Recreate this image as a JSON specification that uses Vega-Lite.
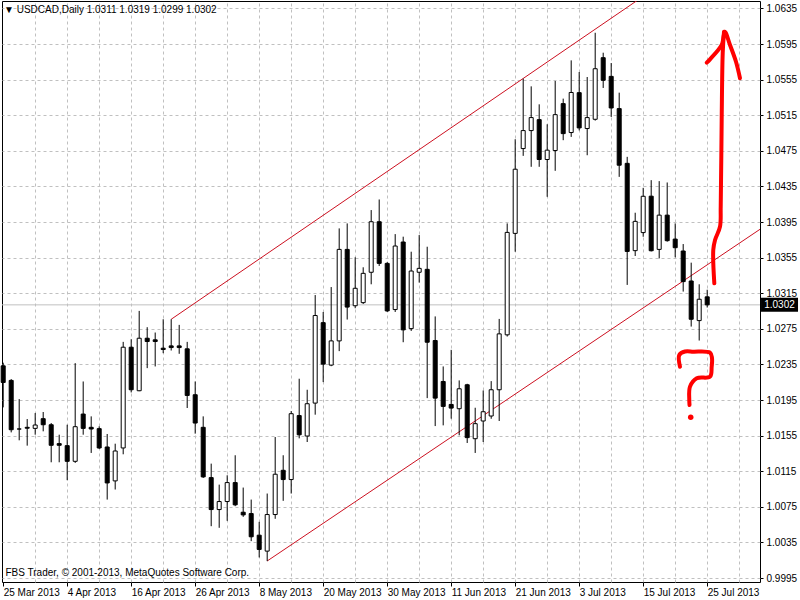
{
  "$schema": "https://vega.github.io/schema/vega-lite/v6.json",
  "width": 758,
  "height": 581,
  "autosize": {"type": "none"},
  "padding": {"left": 2, "top": 1, "right": 40, "bottom": 18},
  "background": "white",
  "config": {
    "view": {"stroke": "black", "strokeWidth": 1},
    "font": "Liberation Sans",
    "scale": {"continuousPadding": 0},
    "axis": {
      "domain": false,
      "labelFont": "Liberation Sans",
      "labelFontSize": 10,
      "labelColor": "black",
      "tickColor": "black",
      "gridColor": "#c0c0c0",
      "gridDash": [3, 3],
      "gridWidth": 1
    }
  },
  "title": {
    "text": "▼ USDCAD,Daily  1.0311 1.0319 1.0299 1.0302",
    "anchor": "start",
    "frame": "group",
    "offset": -14,
    "dx": 2,
    "fontSize": 10,
    "fontWeight": "normal",
    "font": "Liberation Sans",
    "color": "black"
  },
  "datasets": {
    "candles": [
      {"i": 0, "o": 1.02335, "h": 1.0237, "l": 1.01868, "c": 1.02148},
      {"i": 1, "o": 1.02171, "h": 1.02186, "l": 1.01587, "c": 1.01617},
      {"i": 2, "o": 1.01625, "h": 1.01961, "l": 1.01498, "c": 1.01625},
      {"i": 3, "o": 1.01644, "h": 1.01737, "l": 1.01438, "c": 1.01634},
      {"i": 4, "o": 1.01632, "h": 1.01804, "l": 1.01561, "c": 1.0167},
      {"i": 5, "o": 1.01741, "h": 1.01816, "l": 1.01599, "c": 1.01673},
      {"i": 6, "o": 1.01673, "h": 1.01692, "l": 1.01251, "c": 1.01442},
      {"i": 7, "o": 1.01461, "h": 1.01561, "l": 1.01251, "c": 1.01442},
      {"i": 8, "o": 1.01438, "h": 1.01673, "l": 1.0105, "c": 1.01262},
      {"i": 9, "o": 1.01262, "h": 1.02365, "l": 1.01244, "c": 1.01651},
      {"i": 10, "o": 1.01793, "h": 1.02159, "l": 1.01561, "c": 1.01632},
      {"i": 11, "o": 1.01644, "h": 1.01767, "l": 1.01356, "c": 1.01625},
      {"i": 12, "o": 1.01629, "h": 1.01655, "l": 1.01401, "c": 1.01412},
      {"i": 13, "o": 1.01423, "h": 1.01569, "l": 1.00832, "c": 1.01019},
      {"i": 14, "o": 1.01042, "h": 1.0146, "l": 1.00945, "c": 1.01378},
      {"i": 15, "o": 1.01412, "h": 1.02604, "l": 1.01341, "c": 1.02544},
      {"i": 16, "o": 1.02544, "h": 1.02634, "l": 1.02036, "c": 1.02066},
      {"i": 17, "o": 1.02055, "h": 1.02952, "l": 1.0205, "c": 1.02645},
      {"i": 18, "o": 1.02645, "h": 1.02769, "l": 1.02309, "c": 1.02608},
      {"i": 19, "o": 1.02627, "h": 1.02709, "l": 1.02328, "c": 1.02608},
      {"i": 20, "o": 1.02533, "h": 1.02858, "l": 1.02477, "c": 1.02518},
      {"i": 21, "o": 1.02559, "h": 1.02858, "l": 1.02507, "c": 1.0254},
      {"i": 22, "o": 1.02559, "h": 1.02795, "l": 1.0247, "c": 1.0254},
      {"i": 23, "o": 1.02526, "h": 1.02604, "l": 1.01861, "c": 1.02002},
      {"i": 24, "o": 1.0201, "h": 1.02159, "l": 1.01573, "c": 1.01692},
      {"i": 25, "o": 1.01644, "h": 1.01767, "l": 1.01075, "c": 1.01087},
      {"i": 26, "o": 1.01079, "h": 1.01236, "l": 1.00533, "c": 1.0072},
      {"i": 27, "o": 1.0072, "h": 1.01, "l": 1.00515, "c": 1.0081},
      {"i": 28, "o": 1.0081, "h": 1.01105, "l": 1.00593, "c": 1.01023},
      {"i": 29, "o": 1.01023, "h": 1.0133, "l": 1.00758, "c": 1.00773},
      {"i": 30, "o": 1.0069, "h": 1.00967, "l": 1.00638, "c": 1.0066},
      {"i": 31, "o": 1.00675, "h": 1.00832, "l": 1.00365, "c": 1.00414},
      {"i": 32, "o": 1.00432, "h": 1.00582, "l": 1.00182, "c": 1.00272},
      {"i": 33, "o": 1.00253, "h": 1.009, "l": 1.00141, "c": 1.00664},
      {"i": 34, "o": 1.00664, "h": 1.01535, "l": 1.00616, "c": 1.01117},
      {"i": 35, "o": 1.01161, "h": 1.0133, "l": 1.00818, "c": 1.01057},
      {"i": 36, "o": 1.01057, "h": 1.01827, "l": 1.009, "c": 1.01797},
      {"i": 37, "o": 1.01776, "h": 1.0219, "l": 1.0152, "c": 1.0156},
      {"i": 38, "o": 1.01546, "h": 1.02066, "l": 1.01479, "c": 1.01909},
      {"i": 39, "o": 1.01916, "h": 1.0313, "l": 1.01786, "c": 1.029},
      {"i": 40, "o": 1.0282, "h": 1.0294, "l": 1.02152, "c": 1.02354},
      {"i": 41, "o": 1.02343, "h": 1.0322, "l": 1.02331, "c": 1.02615},
      {"i": 42, "o": 1.02615, "h": 1.03879, "l": 1.025, "c": 1.03643},
      {"i": 43, "o": 1.03643, "h": 1.03935, "l": 1.02855, "c": 1.02995},
      {"i": 44, "o": 1.0301, "h": 1.03554, "l": 1.02982, "c": 1.03206},
      {"i": 45, "o": 1.03045, "h": 1.03442, "l": 1.0303, "c": 1.03374},
      {"i": 46, "o": 1.03386, "h": 1.04085, "l": 1.03251, "c": 1.03954},
      {"i": 47, "o": 1.03954, "h": 1.04204, "l": 1.03457, "c": 1.03486},
      {"i": 48, "o": 1.03486, "h": 1.035, "l": 1.0294, "c": 1.02952},
      {"i": 49, "o": 1.02967, "h": 1.03815, "l": 1.0294, "c": 1.03681},
      {"i": 50, "o": 1.03726, "h": 1.03786, "l": 1.026, "c": 1.02739},
      {"i": 51, "o": 1.02753, "h": 1.03617, "l": 1.02727, "c": 1.034},
      {"i": 52, "o": 1.03386, "h": 1.03804, "l": 1.0327, "c": 1.0343},
      {"i": 53, "o": 1.03419, "h": 1.03673, "l": 1.01972, "c": 1.026},
      {"i": 54, "o": 1.02619, "h": 1.0289, "l": 1.01658, "c": 1.01972},
      {"i": 55, "o": 1.02159, "h": 1.02328, "l": 1.01666, "c": 1.01879},
      {"i": 56, "o": 1.01901, "h": 1.02514, "l": 1.01741, "c": 1.0186},
      {"i": 57, "o": 1.01853, "h": 1.02171, "l": 1.01554, "c": 1.02077},
      {"i": 58, "o": 1.02122, "h": 1.02133, "l": 1.01468, "c": 1.01528},
      {"i": 59, "o": 1.01516, "h": 1.01864, "l": 1.01356, "c": 1.01685},
      {"i": 60, "o": 1.01715, "h": 1.02058, "l": 1.01479, "c": 1.01819},
      {"i": 61, "o": 1.01771, "h": 1.02163, "l": 1.0174, "c": 1.02066},
      {"i": 62, "o": 1.02066, "h": 1.02862, "l": 1.01715, "c": 1.02694},
      {"i": 63, "o": 1.02683, "h": 1.03935, "l": 1.02664, "c": 1.03834},
      {"i": 64, "o": 1.03823, "h": 1.04881, "l": 1.03617, "c": 1.04544},
      {"i": 65, "o": 1.04776, "h": 1.05561, "l": 1.04694, "c": 1.04978},
      {"i": 66, "o": 1.04978, "h": 1.05475, "l": 1.04571, "c": 1.05124},
      {"i": 67, "o": 1.05101, "h": 1.05273, "l": 1.04571, "c": 1.04653},
      {"i": 68, "o": 1.04653, "h": 1.05049, "l": 1.04234, "c": 1.04758},
      {"i": 69, "o": 1.04754, "h": 1.05535, "l": 1.04526, "c": 1.05157},
      {"i": 70, "o": 1.05281, "h": 1.05337, "l": 1.0487, "c": 1.04944},
      {"i": 71, "o": 1.04956, "h": 1.05767, "l": 1.04907, "c": 1.05406},
      {"i": 72, "o": 1.05404, "h": 1.05636, "l": 1.0498, "c": 1.05008},
      {"i": 73, "o": 1.05001, "h": 1.0558, "l": 1.04701, "c": 1.05124},
      {"i": 74, "o": 1.05105, "h": 1.06077, "l": 1.0509, "c": 1.05673},
      {"i": 75, "o": 1.05797, "h": 1.05853, "l": 1.05457, "c": 1.05543},
      {"i": 76, "o": 1.05587, "h": 1.05737, "l": 1.05131, "c": 1.05232},
      {"i": 77, "o": 1.05225, "h": 1.05404, "l": 1.04458, "c": 1.04589},
      {"i": 78, "o": 1.0461, "h": 1.04683, "l": 1.03244, "c": 1.0362},
      {"i": 79, "o": 1.03629, "h": 1.04055, "l": 1.03569, "c": 1.03958},
      {"i": 80, "o": 1.03832, "h": 1.04335, "l": 1.03785, "c": 1.0424},
      {"i": 81, "o": 1.04241, "h": 1.04421, "l": 1.0362, "c": 1.03628},
      {"i": 82, "o": 1.03643, "h": 1.0441, "l": 1.03542, "c": 1.04028},
      {"i": 83, "o": 1.04028, "h": 1.04395, "l": 1.0373, "c": 1.03741},
      {"i": 84, "o": 1.03759, "h": 1.03935, "l": 1.03554, "c": 1.03662},
      {"i": 85, "o": 1.03625, "h": 1.03703, "l": 1.03169, "c": 1.03281},
      {"i": 86, "o": 1.03288, "h": 1.03494, "l": 1.02776, "c": 1.02858},
      {"i": 87, "o": 1.02843, "h": 1.03251, "l": 1.02619, "c": 1.03083},
      {"i": 88, "o": 1.0311, "h": 1.0319, "l": 1.0299, "c": 1.0302}
    ],
    "trend": [
      {"g": "upper", "n": 0, "i": 21, "p": 1.02858},
      {"g": "upper", "n": 1, "i": 94.6, "p": 1.07384},
      {"g": "lower", "n": 0, "i": 33, "p": 1.00142},
      {"g": "lower", "n": 1, "i": 94.6, "p": 1.03869}
    ],
    "hand": [
      {"g": "shaft", "n": 0, "i": 88.89, "p": 1.03262},
      {"g": "shaft", "n": 1, "i": 88.76, "p": 1.03637},
      {"g": "shaft", "n": 2, "i": 88.98, "p": 1.03749},
      {"g": "shaft", "n": 3, "i": 89.6, "p": 1.03898},
      {"g": "shaft", "n": 4, "i": 89.69, "p": 1.04123},
      {"g": "shaft", "n": 5, "i": 89.81, "p": 1.05097},
      {"g": "shaft", "n": 6, "i": 89.94, "p": 1.0585},
      {"g": "shaft", "n": 7, "i": 90.1, "p": 1.06089},
      {"g": "head", "n": 0, "i": 87.94, "p": 1.05741},
      {"g": "head", "n": 1, "i": 88.35, "p": 1.05779},
      {"g": "head", "n": 2, "i": 89.81, "p": 1.0594},
      {"g": "head", "n": 3, "i": 90.2, "p": 1.06089},
      {"g": "head", "n": 4, "i": 90.85, "p": 1.0594},
      {"g": "head", "n": 5, "i": 91.6, "p": 1.05752},
      {"g": "head", "n": 6, "i": 92.1, "p": 1.05566},
      {"g": "q", "n": 0, "i": 84.6, "p": 1.02325},
      {"g": "q", "n": 1, "i": 84.51, "p": 1.02457},
      {"g": "q", "n": 2, "i": 85.23, "p": 1.02496},
      {"g": "q", "n": 3, "i": 86.26, "p": 1.02494},
      {"g": "q", "n": 4, "i": 88.35, "p": 1.02483},
      {"g": "q", "n": 5, "i": 88.6, "p": 1.02423},
      {"g": "q", "n": 6, "i": 88.56, "p": 1.02325},
      {"g": "q", "n": 7, "i": 88.35, "p": 1.02213},
      {"g": "q", "n": 8, "i": 86.69, "p": 1.02195},
      {"g": "q", "n": 9, "i": 85.85, "p": 1.02101},
      {"g": "q", "n": 10, "i": 85.76, "p": 1.01951},
      {"g": "q", "n": 11, "i": 85.79, "p": 1.01895}
    ],
    "dot": [
      {"i": 85.94, "p": 1.01757}
    ]
  },
  "layer": [
    {
      "data": {"name": "candles"},
      "mark": {"type": "rule", "color": "black", "strokeWidth": 1},
      "encoding": {
        "x": {"field": "i", "type": "quantitative", "scale": {"domain": [-0.15, 94.6], "nice": false, "zero": false, "padding": 0},
          "axis": {"orient": "top", "values": [4, 8, 12, 16, 20, 24, 28, 32, 36, 40, 44, 48, 52, 56, 60, 64, 68, 72, 76, 80, 84, 88, 92], "grid": true, "labels": false, "ticks": false, "domain": false, "title": null}},
        "y": {"field": "l", "type": "quantitative", "scale": {"domain": [0.99906, 1.06434], "nice": false, "zero": false, "padding": 0},
          "axis": {
            "orient": "right",
            "values": [0.9995, 1.0035, 1.0075, 1.0115, 1.0155, 1.0195, 1.0235, 1.0275, 1.0315, 1.0355, 1.0395, 1.0435, 1.0475, 1.0515, 1.0555, 1.0595, 1.0635],
            "format": ".4f",
            "grid": true,
            "ticks": true,
            "tickSize": 3,
            "labelPadding": 3,
            "title": null
          }},
        "y2": {"field": "h"},
        "opacity": {"value": 0}
      }
    },
    {
      "data": {"name": "candles"},
      "transform": [{"filter": "datum.i == 88"}],
      "mark": {"type": "rule", "color": "#c0c0c0", "strokeWidth": 1},
      "encoding": {
        "y": {"field": "c", "type": "quantitative", "scale": {"domain": [0.99906, 1.06434], "nice": false, "zero": false, "padding": 0}, "axis": null}
      }
    },
    {
      "data": {"name": "trend"},
      "mark": {"type": "line", "color": "#cc1020", "strokeWidth": 1, "clip": true},
      "encoding": {
        "x": {"field": "i", "type": "quantitative", "scale": {"domain": [-0.15, 94.6], "nice": false, "zero": false, "padding": 0}, "axis": null},
        "y": {"field": "p", "type": "quantitative", "scale": {"domain": [0.99906, 1.06434], "nice": false, "zero": false, "padding": 0}, "axis": null},
        "detail": {"field": "g", "type": "nominal"},
        "order": {"field": "n", "type": "quantitative"}
      }
    },
    {
      "data": {"name": "candles"},
      "mark": {"type": "rule", "color": "black", "strokeWidth": 1},
      "encoding": {
        "x": {"field": "i", "type": "quantitative", "scale": {"domain": [-0.15, 94.6], "nice": false, "zero": false, "padding": 0}, "axis": null},
        "y": {"field": "l", "type": "quantitative", "scale": {"domain": [0.99906, 1.06434], "nice": false, "zero": false, "padding": 0}, "axis": null},
        "y2": {"field": "h"}
      }
    },
    {
      "data": {"name": "candles"},
      "mark": {"type": "bar", "width": 4, "stroke": "black", "strokeWidth": 1},
      "encoding": {
        "x": {"field": "i", "type": "quantitative", "scale": {"domain": [-0.15, 94.6], "nice": false, "zero": false, "padding": 0},
          "axis": {
            "orient": "bottom",
            "values": [0, 8, 16, 24, 32, 40, 48, 56, 64, 72, 80, 88],
            "labelExpr": "['25 Mar 2013','4 Apr 2013','16 Apr 2013','26 Apr 2013','8 May 2013','20 May 2013','30 May 2013','11 Jun 2013','21 Jun 2013','3 Jul 2013','15 Jul 2013','25 Jul 2013'][datum.value / 8]",
            "labelAlign": "left",
            "labelOffset": 0,
            "labelPadding": 1,
            "labelBaseline": "top",
            "tickSize": 4,
            "grid": false,
            "labelOverlap": false,
            "labelFlush": false,
            "title": "FBS Trader, © 2001-2013, MetaQuotes Software Corp.",
            "titleAnchor": "start",
            "titleAlign": "left",
            "titleX": 3,
            "titleY": -5,
            "titleBaseline": "bottom",
            "titleFont": "Liberation Sans",
            "titleFontSize": 10,
            "titleFontWeight": "normal",
            "titleColor": "black"
          }},
        "y": {"field": "o", "type": "quantitative", "scale": {"domain": [0.99906, 1.06434], "nice": false, "zero": false, "padding": 0}, "axis": null},
        "y2": {"field": "c"},
        "fill": {"condition": {"test": "datum.o > datum.c", "value": "black"}, "value": "white"}
      }
    },
    {
      "data": {"name": "hand"},
      "mark": {"type": "line", "color": "#ff0000", "strokeWidth": 4, "strokeCap": "round", "strokeJoin": "round", "interpolate": "catmull-rom"},
      "encoding": {
        "x": {"field": "i", "type": "quantitative", "scale": {"domain": [-0.15, 94.6], "nice": false, "zero": false, "padding": 0}, "axis": null},
        "y": {"field": "p", "type": "quantitative", "scale": {"domain": [0.99906, 1.06434], "nice": false, "zero": false, "padding": 0}, "axis": null},
        "detail": {"field": "g", "type": "nominal"},
        "order": {"field": "n", "type": "quantitative"}
      }
    },
    {
      "data": {"name": "dot"},
      "mark": {"type": "circle", "color": "#ff0000", "opacity": 1, "size": 30},
      "encoding": {
        "x": {"field": "i", "type": "quantitative", "scale": {"domain": [-0.15, 94.6], "nice": false, "zero": false, "padding": 0}, "axis": null},
        "y": {"field": "p", "type": "quantitative", "scale": {"domain": [0.99906, 1.06434], "nice": false, "zero": false, "padding": 0}, "axis": null}
      }
    },
    {
      "data": {"name": "candles"},
      "transform": [{"filter": "datum.i == 88"}],
      "mark": {"type": "tick", "orient": "horizontal", "size": 37, "thickness": 14, "color": "black", "opacity": 1},
      "encoding": {
        "x": {"datum": 97.04, "type": "quantitative", "scale": {"domain": [-0.15, 94.6], "nice": false, "zero": false, "padding": 0}, "axis": null},
        "y": {"field": "c", "type": "quantitative", "scale": {"domain": [0.99906, 1.06434], "nice": false, "zero": false, "padding": 0}, "axis": null}
      }
    },
    {
      "data": {"name": "candles"},
      "transform": [{"filter": "datum.i == 88"}],
      "mark": {"type": "text", "color": "white", "align": "center", "baseline": "middle", "fontSize": 10, "font": "Liberation Sans"},
      "encoding": {
        "x": {"datum": 97.04, "type": "quantitative", "scale": {"domain": [-0.15, 94.6], "nice": false, "zero": false, "padding": 0}, "axis": null},
        "y": {"field": "c", "type": "quantitative", "scale": {"domain": [0.99906, 1.06434], "nice": false, "zero": false, "padding": 0}, "axis": null},
        "text": {"field": "c", "type": "quantitative", "format": ".4f"}
      }
    }
  ],
  "resolve": {"axis": {"x": "independent", "y": "independent"}}
}
